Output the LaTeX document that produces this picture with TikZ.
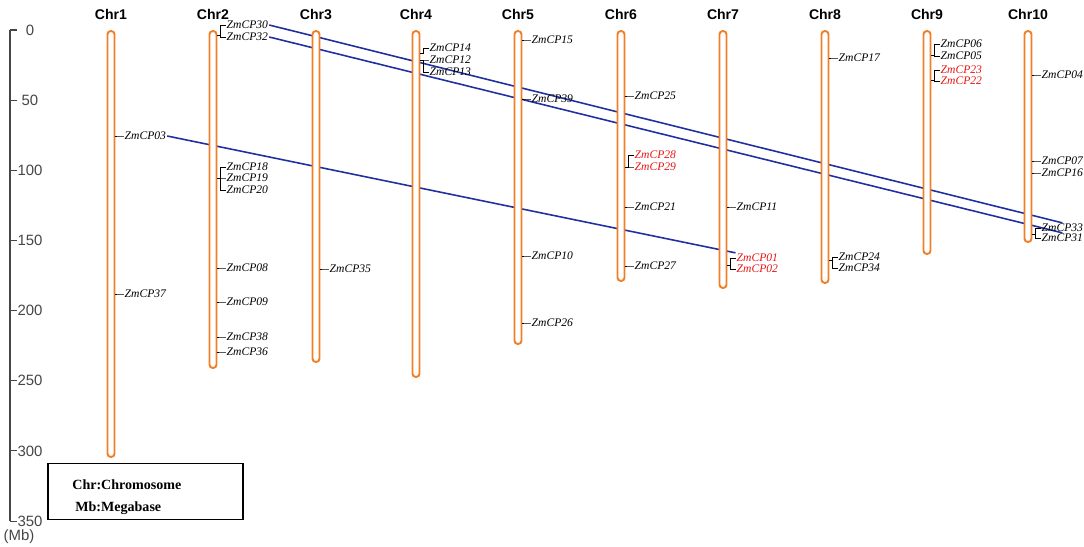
\documentclass[tikz,border=0pt]{standalone}
\usepackage{fontspec}
\newfontfamily\timesfont{Liberation Serif}
\newfontfamily\arialfont{Liberation Sans}
\usetikzlibrary{backgrounds}
\definecolor{chrorange}{RGB}{240,128,40}
\definecolor{linkblue}{RGB}{32,48,160}
\definecolor{genered}{RGB}{230,20,20}
\definecolor{axisgray}{RGB}{70,70,70}

\begin{document}
\begin{tikzpicture}[x=0.02cm,y=-0.02cm,
    chrom/.style={draw=chrorange,fill=white,line width=1.1pt,rounded corners=1.9pt,minimum width=0.14cm,inner sep=0pt,outer sep=0pt,anchor=north},
    chrname/.style={font=\arialfont\bfseries\fontsize{8}{9.5}\selectfont,inner sep=0pt},
    gene/.style={font=\timesfont\itshape\fontsize{6.6}{8}\selectfont,anchor=west,inner sep=0.5pt},
    tick/.style={line width=0.4pt},
    link/.style={linkblue,line width=0.9pt},
    axis/.style={axisgray,line width=0.6pt},
    axislab/.style={font=\arialfont\fontsize{8.5}{10}\selectfont,text=axisgray,inner sep=0pt},
    legtext/.style={font=\timesfont\bfseries\fontsize{8}{10}\selectfont,anchor=west,inner sep=0pt}]
    \useasboundingbox (0,0) rectangle (1084,547);

    % scale bar in Mb
    \draw[axis] (10,30) -- (10,521);
    \foreach \v in {0,50,...,350}{
        \draw[axis] (10,{30+1.403*\v}) -- ++(7,0);
        \node[axislab] (ax\v) at (30,{30+1.403*\v}) {\v};
    }
    \node[axislab] (unit) at (19,537) {(Mb)};

    % chromosomes
    \foreach \ch/\x/\b in {1/111/457,2/213/368,3/316/362,4/416/377,5/518/344,6/621/281,7/723/288,8/825/283,9/927/254,10/1028/242}{
        \node[chrom,minimum height={(\b-31)*0.02cm}] (chr\ch) at (\x,31) {};
        \node[chrname] (name\ch) at (\x,14) {Chr\ch};
    }

    % genes: chromosome / number / label y / stub y / colour
    \foreach \ch/\gn/\gy/\sy/\gc in {1/03/136/136/black,1/37/294/294/black,
        2/30/25/35/black,2/32/37/35/black,2/18/167/178/black,2/19/178/178/black,2/20/190/178/black,
        2/08/268/268/black,2/09/302/302/black,2/38/337/337/black,2/36/352/352/black,
        3/35/269/269/black,
        4/14/48/53/black,4/12/60/60/black,4/13/72/60/black,
        5/15/40/40/black,5/39/99/99/black,5/10/256/256/black,5/26/323/323/black,
        6/25/96/96/black,6/28/155/167/genered,6/29/167/167/genered,6/21/207/207/black,6/27/266/266/black,
        7/11/207/207/black,7/01/258/265/genered,7/02/269/265/genered,
        8/17/58/58/black,8/24/257/260/black,8/34/268/260/black,
        9/06/44/55/black,9/05/56/55/black,9/23/70/80/genered,9/22/81/80/genered,
        10/04/75/75/black,10/07/161/161/black,10/16/173/173/black,10/33/228/234/black,10/31/238/234/black}{
        \path (chr\ch.east |- 0,\gy) ++(9,0) node[gene,text=\gc] (ZmCP\gn) {ZmCP\gn};
        \draw[tick] (ZmCP\gn.west) -- ++(-5,0) |- (chr\ch.east |- 0,\sy);
    }

    % duplicated pairs
    \begin{scope}[on background layer]
        \draw[link] (ZmCP30.east) -- (ZmCP33.north);
        \draw[link] (ZmCP32.east) -- (ZmCP31.north);
        \draw[link] (ZmCP03.east) -- (ZmCP01.north west);
    \end{scope}

    % legend
    \node[draw,line width=1pt,minimum width=3.9cm,minimum height=1.12cm,inner sep=0pt] (legend) at (145.5,491.5) {};
    \node[legtext] (legchr) at (72,485) {Chr:Chromosome};
    \node[legtext] (legmb) at (75,508) {Mb:Megabase};
\end{tikzpicture}
\end{document}
